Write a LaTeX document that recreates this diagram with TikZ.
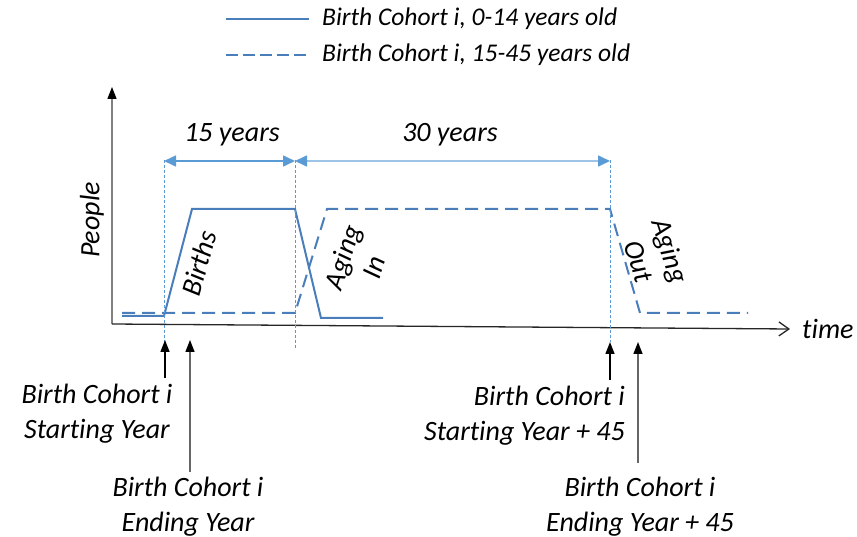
\documentclass[tikz,border=0pt]{standalone}
\usepackage{fontspec}
\setmainfont[Ligatures=NoCommon]{Carlito}
\usetikzlibrary{arrows.meta}
\definecolor{lineblue}{HTML}{4A7EBB}
\definecolor{guideblue}{HTML}{5B9BD5}
\definecolor{spanblue}{HTML}{9DC3E6}
\definecolor{axisgray}{HTML}{808080}
\begin{document}
\begin{tikzpicture}[x=1pt,y=-1pt,
  lbl/.style={font=\itshape\fontsize{28}{35}\selectfont, inner sep=0pt, align=center},
  legendtxt/.style={font=\itshape\fontsize{25.5}{30}\selectfont, inner sep=0pt, anchor=west},
  young/.style={lineblue, line width=2pt},
  adult/.style={lineblue, line width=2pt, dash pattern=on 13pt off 7pt},
  guide/.style={guideblue, line width=0.9pt, dash pattern=on 3pt off 2pt},
  span/.style={line width=1.6pt, {Triangle[length=12pt,width=11pt,color=guideblue]}-{Triangle[length=12pt,width=11pt,color=guideblue]}},
  pointer/.style={line width=1.4pt, -{Triangle[length=12pt,width=9pt,color=black]}},
]
\useasboundingbox (0,0) rectangle (857,537);

% legend
\coordinate (l1a) at (226,19);
\coordinate (l1b) at (309,19);
\coordinate (l2a) at (226,55);
\coordinate (l2b) at (309,55);
\draw[young] (l1a) -- (l1b);
\draw[adult, dash pattern=on 12pt off 5pt] (l2a) -- (l2b);
\node[legendtxt] (leg1) at (322,19) {Birth Cohort i, 0-14 years old};
\node[legendtxt] (leg2) at (322,55) {Birth Cohort i, 15-45 years old};

% axes
\coordinate (origin) at (112,324);
\coordinate (ytop) at (112,87);
\coordinate (xend) at (790,329);
\draw[axisgray, line width=1.3pt, -{Triangle[length=12pt,width=9pt,color=black]}] (origin) -- (ytop);
\draw[black!85, line width=1.3pt, -{Straight Barb[length=10pt,width=14pt]}] (origin) -- (xend);
\node[lbl, anchor=west] (time) at (802,329) {time};
\node[lbl, rotate=90] (people) at (92,220) {People};

% key instants on the time axis
\coordinate (t0) at (164,0);
\coordinate (t15) at (295,0);
\coordinate (t45) at (610,0);

% cohort curves
\draw[young] (122,316) -- (164,316) -- (192,209) -- (295,209) -- (321,318) -- (383,318);
\draw[adult] (122,313) -- (295,313) -- (327,209) -- (610,209) -- (640,313) -- (748,313);

% guide lines
\draw[guide] (t0 |- 0,160) -- (t0 |- 0,352);
\draw[guide] (t15 |- 0,160) -- (t15 |- 0,348);
\draw[guide] (t45 |- 0,160) -- (t45 |- 0,342);

% span arrows
\coordinate (s0) at (164,161);
\coordinate (s15) at (295,161);
\coordinate (s45) at (610,161);
\draw[span, guideblue] (s0) -- (s15);
\draw[span, spanblue] (s15) -- (s45);
\node[lbl] (y15) at (232,135) {15 years};
\node[lbl] (y30) at (450,135) {30 years};

% flow labels
\node[lbl, rotate=75] (births) at (199,263) {Births};
\node[lbl, rotate=72, font=\itshape\fontsize{28}{33}\selectfont] (agin) at (358,262) {Aging\\In};
\node[lbl, rotate=-72, font=\itshape\fontsize{28}{33}\selectfont] (agout) at (655,256) {Aging\\Out};

% time markers
\node[lbl] (sy) at (97,414) {Birth Cohort i\\Starting Year};
\node[lbl] (ey) at (188,507) {Birth Cohort i\\Ending Year};
\node[lbl, align=right, anchor=east] (sy45) at (625,416) {Birth Cohort i\\Starting Year + 45};
\node[lbl] (ey45) at (640,507) {Birth Cohort i\\Ending Year + 45};

\coordinate (p1a) at (165,378);
\coordinate (p1b) at (165,340);
\coordinate (p2a) at (190,472);
\coordinate (p2b) at (190,340);
\coordinate (p3a) at (610,380);
\coordinate (p3b) at (610,342);
\coordinate (p4a) at (638,463);
\coordinate (p4b) at (638,342);
\draw[pointer] (p1a) -- (p1b);
\draw[pointer, black!60] (p2a) -- (p2b);
\draw[pointer] (p3a) -- (p3b);
\draw[pointer, black!60] (p4a) -- (p4b);
\end{tikzpicture}
\end{document}
